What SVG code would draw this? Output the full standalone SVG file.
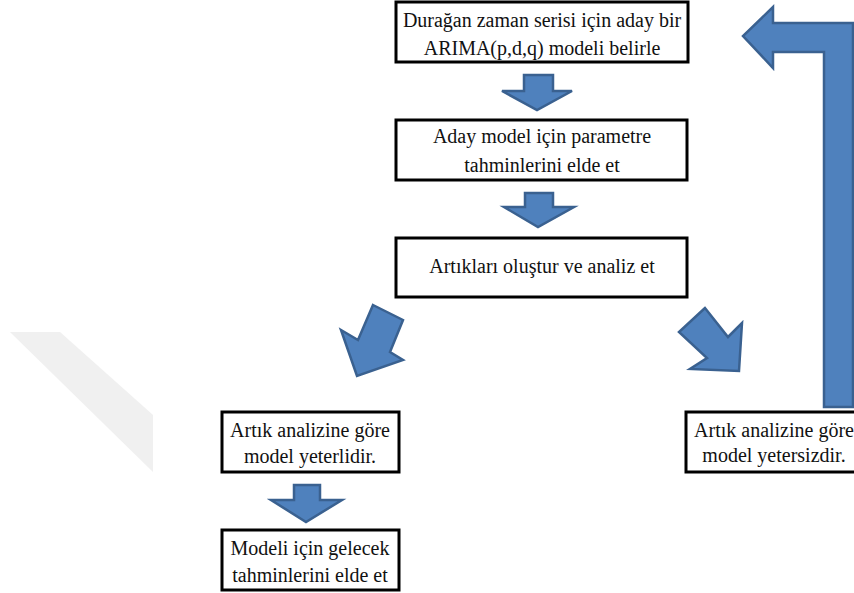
<svg xmlns="http://www.w3.org/2000/svg" width="854" height="593" viewBox="0 0 854 593">
<style>
.box{fill:#fff;stroke:#000;stroke-width:3}
.t{font-family:"Liberation Serif","Times New Roman",serif;font-size:20px;fill:#111;text-anchor:middle}
.arr{fill:#4F81BD;stroke:#3A6190;stroke-width:2.5;stroke-linejoin:miter}
</style>
<rect width="854" height="593" fill="#fff"/>
<polygon points="10,332 60,332 153,415 153,472" fill="#f0f0f0"/>
<g id="connectors">
<polygon class="arr" points="524,75 553,75 553,91 572,91 537,110 502,91 524,91"/>
<polygon class="arr" points="525,193 553,193 553,207 574,207 538,227 504,207 525,207"/>
<polygon class="arr" points="373,305 403,320 390,352 403,360 357,376 341,330 358,340"/>
<polygon class="arr" points="705,308 679,332 707,358 690,369 739,371 742,323 728,337"/>
<polygon class="arr" points="294,485 320,485 320,500 342,500 306,522 271,500 294,500"/>
<polygon class="arr" points="824,407 853,407 853,23 773,23 773,7 743,36 773,68 773,52 824,52"/>
</g>
<g id="n1"><rect class="box" x="396" y="2" width="292" height="60"/>
<text class="t" x="542" y="27">Durağan zaman serisi için aday bir</text>
<text class="t" x="542" y="55">ARIMA(p,d,q) modeli belirle</text></g>
<g id="n2"><rect class="box" x="396" y="120" width="291" height="60"/>
<text class="t" x="542" y="143">Aday model için parametre</text>
<text class="t" x="542" y="172">tahminlerini elde et</text></g>
<g id="n3"><rect class="box" x="396" y="238" width="291" height="59"/>
<text class="t" x="542" y="273">Artıkları oluştur ve analiz et</text></g>
<g id="n4"><rect class="box" x="222" y="412" width="177" height="60"/>
<text class="t" x="310" y="437">Artık analizine göre</text>
<text class="t" x="310" y="463">model yeterlidir.</text></g>
<g id="n5"><rect class="box" x="222" y="530" width="177" height="60"/>
<text class="t" x="310" y="555">Modeli için gelecek</text>
<text class="t" x="310" y="582">tahminlerini elde et</text></g>
<g id="n6"><rect class="box" x="686" y="412" width="176" height="60"/>
<text class="t" x="774" y="437">Artık analizine göre</text>
<text class="t" x="774" y="462">model yetersizdir.</text></g>
</svg>
